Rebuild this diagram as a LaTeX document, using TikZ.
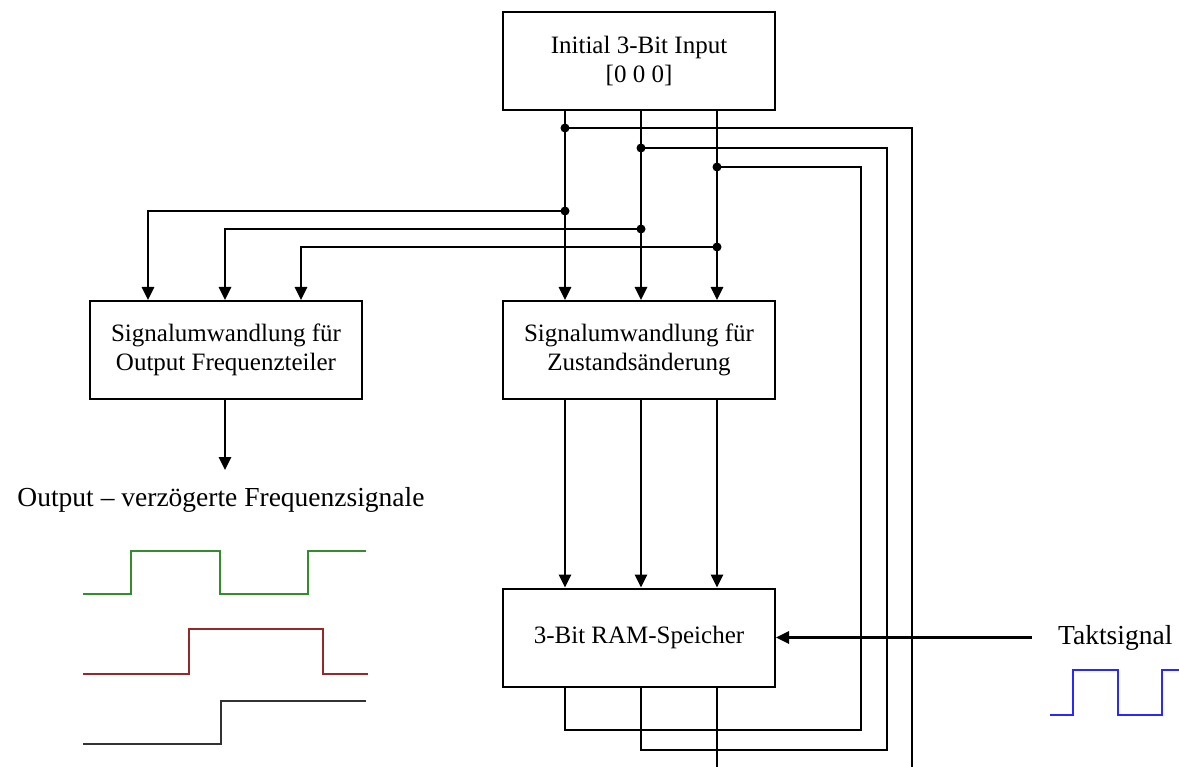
\documentclass[tikz,border=0pt]{standalone}
\usepackage{fontspec}
\setmainfont{Liberation Serif}
\usetikzlibrary{arrows.meta}
\begin{document}
\begin{tikzpicture}[x=1pt,y=-1pt,
  box/.style={draw=black,line width=2pt,minimum width=272pt,minimum height=98pt,
    align=center,inner sep=0pt,font=\fontsize{25}{29}\selectfont},
  wire/.style={line width=2.8pt,line cap=rect,line join=miter},
  arr/.style={wire,line cap=butt,-{Triangle[length=13pt,width=12pt]}},
  dot/.style={circle,fill=black,inner sep=0pt,minimum size=9pt},
  lbl/.style={inner sep=0pt,font=\fontsize{27.5}{32}\selectfont},
  wave/.style={line width=2.4pt,line join=miter}]
\useasboundingbox (0,0) rectangle (1179,767);
\fill[white] (0,0) rectangle (1179,767);

% boxes
\node[box] (top) at (639,61) {Initial 3-Bit Input\\{}[0 0 0]};
\node[box] (left) at (226,350) {Signalumwandlung für\\Output Frequenzteiler};
\node[box] (mid) at (639,350) {Signalumwandlung für\\Zustandsänderung};
\node[box] (ram) at (639,637.5) {3-Bit RAM-Speicher};

% junction coordinates
\coordinate (a1) at (565,128);
\coordinate (b1) at (641,148);
\coordinate (c1) at (717,167);
\coordinate (a2) at (565,211);
\coordinate (b2) at (641,229);
\coordinate (c2) at (717,247);
\coordinate (ra) at (912,128);
\coordinate (rb) at (887,148);
\coordinate (rc) at (861,167);
\coordinate (la) at (148,211);
\coordinate (lb) at (225,229);
\coordinate (lc) at (301,247);
\coordinate (fa) at (565,730);
\coordinate (fb) at (641,750);
\coordinate (bot) at (717,767);
\coordinate (botr) at (912,767);
\coordinate (outend) at (225,470);
\coordinate (takt) at (1032,637.5);

% top -> middle box
\draw[arr] (a1 |- top.south) -- (a1 |- mid.north);
\draw[arr] (b1 |- top.south) -- (b1 |- mid.north);
\draw[arr] (c1 |- top.south) -- (c1 |- mid.north);

% branches to the right
\draw[wire] (a1) -- (ra) -- (botr);
\draw[wire] (b1) -- (rb) -- (rb |- fb) -- (fb) -- (fb |- ram.south);
\draw[wire] (c1) -- (rc) -- (rc |- fa) -- (fa) -- (fa |- ram.south);
\draw[wire] (c1 |- ram.south) -- (bot);

% branches to the left box
\draw[arr] (a2) -- (la) -- (la |- left.north);
\draw[arr] (b2) -- (lb) -- (lb |- left.north);
\draw[arr] (c2) -- (lc) -- (lc |- left.north);

% middle -> RAM
\draw[arr] (a1 |- mid.south) -- (a1 |- ram.north);
\draw[arr] (b1 |- mid.south) -- (b1 |- ram.north);
\draw[arr] (c1 |- mid.south) -- (c1 |- ram.north);

% output arrow
\draw[arr] (outend |- left.south) -- (outend);

% clock arrow
\draw[arr] (takt) -- (ram.east);

% dots
\foreach \p in {a1,b1,c1,a2,b2,c2} \node[dot] at (\p) {};

% labels
\node[lbl] (outlbl) at (221,500) {Output – verzögerte Frequenzsignale};
\node[lbl,anchor=west] (taktlbl) at (1058,638) {Taktsignal};

% waveforms
\definecolor{wgreen}{RGB}{52,140,44}
\definecolor{wred}{RGB}{150,40,40}
\definecolor{wgray}{RGB}{50,50,50}
\definecolor{wblue}{RGB}{40,40,255}
\draw[wave,wgreen] (83,594) -- (131,594) -- (131,551) -- (220,551) -- (220,594) -- (308,594) -- (308,551) -- (366,551);
\draw[wave,wred] (83,674) -- (189,674) -- (189,629) -- (323,629) -- (323,674) -- (368,674);
\draw[wave,wgray] (83,744) -- (221,744) -- (221,701) -- (366,701);
\draw[wave,wblue] (1050,715) -- (1073,715) -- (1073,670) -- (1118,670) -- (1118,715) -- (1162,715) -- (1162,670) -- (1179,670);
\end{tikzpicture}
\end{document}
